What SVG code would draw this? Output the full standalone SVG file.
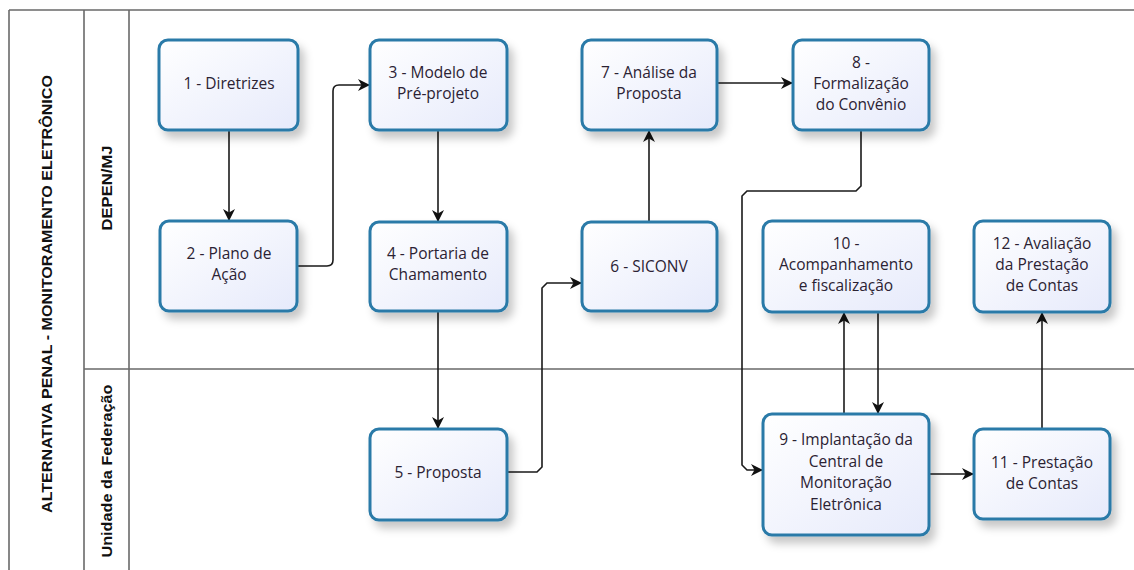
<svg xmlns="http://www.w3.org/2000/svg" width="1134" height="570" viewBox="0 0 1134 570">
<defs>
<linearGradient id="nodeFill" x1="0" y1="0" x2="1" y2="1">
<stop offset="0" stop-color="#ffffff"/>
<stop offset="1" stop-color="#e6eafb"/>
</linearGradient>
<filter id="shadow" x="-20%" y="-20%" width="150%" height="160%">
<feDropShadow dx="5" dy="7" stdDeviation="4" flood-color="#000" flood-opacity="0.22"/>
</filter>
<marker id="arrow" viewBox="0 0 12 12" refX="11" refY="6" markerWidth="12" markerHeight="12" markerUnits="userSpaceOnUse" orient="auto">
<path d="M0,0 L12,6 L0,12 L3.5,6 z" fill="#111"/>
</marker>
<style>
.frame{stroke:#6a6a6a;stroke-width:1.6;fill:none}
.node rect{fill:url(#nodeFill);stroke:#2a7aa8;stroke-width:3;filter:url(#shadow)}
.node text{font-family:"Open Sans","Noto Sans",sans-serif;font-size:15.5px;fill:#2b2233;text-anchor:middle}
.lane{font-family:"Liberation Sans","DejaVu Sans",sans-serif;font-weight:bold;font-size:15px;fill:#111;text-anchor:middle}
.conn path{fill:none;stroke:#1a1a1a;stroke-width:1.6;marker-end:url(#arrow)}
</style>
</defs>
<rect width="1134" height="570" fill="#fff"/>
<g id="frame">
<path class="frame" d="M9,10 H1134 M9,10 V570 M84,10 V570 M129,10 V570 M84,369 H1134"/>
<text class="lane" transform="translate(52,294) rotate(-90)" textLength="438" lengthAdjust="spacingAndGlyphs">ALTERNATIVA PENAL - MONITORAMENTO ELETRÔNICO</text>
<text class="lane" transform="translate(112,188) rotate(-90)" textLength="85" lengthAdjust="spacingAndGlyphs">DEPEN/MJ</text>
<text class="lane" transform="translate(112,471) rotate(-90)" textLength="173" lengthAdjust="spacingAndGlyphs">Unidade da Federação</text>
</g>
<g id="connectors" class="conn">
<path d="M229,131 V220"/>
<path d="M298,266 H327 Q333,266 333,260 V91 Q333,85 339,85 H369"/>
<path d="M438,131 V221"/>
<path d="M438,312 V428"/>
<path d="M508,472 H537 L542,467 V288 L547,283 H581"/>
<path d="M649,221 V131"/>
<path d="M718,83 H792"/>
<path d="M861,131 V186 L856,191 H747 L742,196 V465 L747,470 H762"/>
<path d="M844,413 V313"/>
<path d="M878,313 V413"/>
<path d="M930,474 H973"/>
<path d="M1042,428 V313"/>
</g>
<g id="n1" class="node"><rect x="159" y="40" width="139" height="90" rx="9"/><text x="229" y="89">1 - Diretrizes</text></g>
<g id="n2" class="node"><rect x="160" y="221" width="137" height="90" rx="9"/><text x="229" y="259">2 - Plano de</text><text x="229" y="280">Ação</text></g>
<g id="n3" class="node"><rect x="370" y="40" width="137" height="90" rx="9"/><text x="438" y="78">3 - Modelo de</text><text x="438" y="99">Pré-projeto</text></g>
<g id="n4" class="node"><rect x="370" y="222" width="137" height="89" rx="9"/><text x="438" y="259">4 - Portaria de</text><text x="438" y="280">Chamamento</text></g>
<g id="n5" class="node"><rect x="370" y="429" width="137" height="91" rx="9"/><text x="438" y="478">5 - Proposta</text></g>
<g id="n6" class="node"><rect x="582" y="222" width="135" height="89" rx="9"/><text x="649" y="272">6 - SICONV</text></g>
<g id="n7" class="node"><rect x="582" y="40" width="135" height="90" rx="9"/><text x="649" y="78">7 - Análise da</text><text x="649" y="99">Proposta</text></g>
<g id="n8" class="node"><rect x="793" y="40" width="136" height="90" rx="9"/><text x="861" y="68">8 -</text><text x="861" y="89">Formalização</text><text x="861" y="110">do Convênio</text></g>
<g id="n9" class="node"><rect x="763" y="414" width="166" height="121" rx="9"/><text x="846" y="445">9 - Implantação da</text><text x="846" y="467">Central de</text><text x="846" y="488">Monitoração</text><text x="846" y="510">Eletrônica</text></g>
<g id="n10" class="node"><rect x="763" y="221" width="166" height="91" rx="9"/><text x="846" y="249">10 -</text><text x="846" y="270">Acompanhamento</text><text x="846" y="291">e fiscalização</text></g>
<g id="n11" class="node"><rect x="974" y="429" width="136" height="90" rx="9"/><text x="1042" y="468">11 - Prestação</text><text x="1042" y="489">de Contas</text></g>
<g id="n12" class="node"><rect x="974" y="221" width="136" height="91" rx="9"/><text x="1042" y="249">12 - Avaliação</text><text x="1042" y="270">da Prestação</text><text x="1042" y="291">de Contas</text></g>
</svg>
